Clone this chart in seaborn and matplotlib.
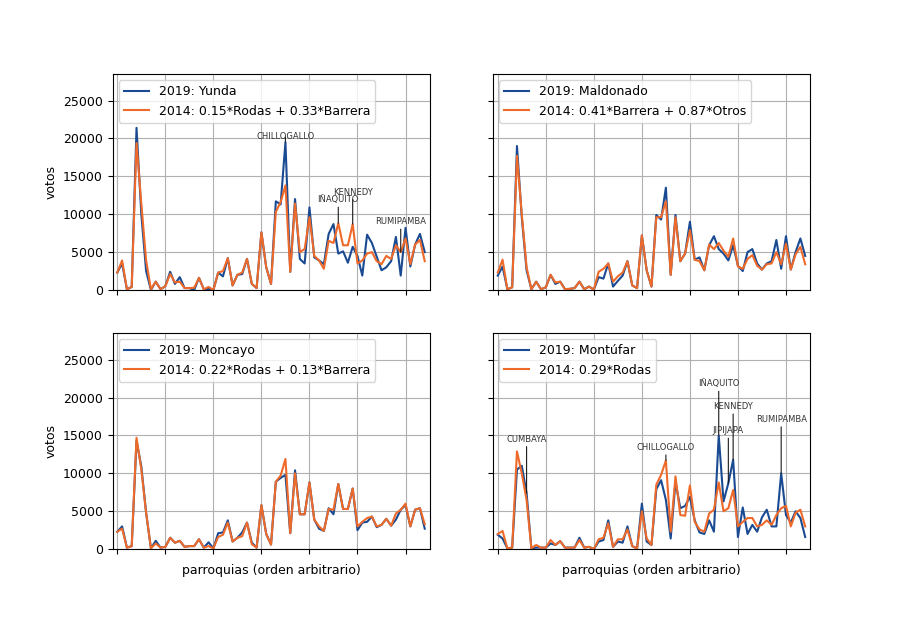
import numpy as np
import pandas as pd
import seaborn as sns
import matplotlib
matplotlib.use("Agg")
import matplotlib.pyplot as plt

plt.rcParams["font.size"] = 9

# votos por parroquia (orden arbitrario)
yunda_2019 = [2300, 3500, 100, 400, 21400, 10000, 2500, 0, 1100, 100,
              500, 2400, 800, 1700, 250, 250, 0, 1600, 100, 150,
              0, 2300, 1800, 4200, 600, 2000, 2100, 4100, 800, 250,
              7600, 3000, 800, 11700, 11300, 19500, 2400, 12000, 4100, 3500,
              10900, 4300, 3900, 3400, 7400, 8700, 4800, 5100, 3600, 5700,
              4500, 1900, 7300, 6200, 4400, 2600, 3000, 3800, 7000, 1900,
              8200, 3100, 6000, 7400, 5000]
yunda_2014 = [2300, 3900, 100, 400, 19400, 11400, 3900, 100, 1100, 100,
              500, 2100, 1000, 1100, 250, 250, 300, 1600, 100, 400,
              0, 2300, 2500, 4200, 600, 2000, 2300, 4100, 800, 250,
              7600, 3000, 800, 10300, 11600, 13800, 2400, 11400, 5000, 5400,
              9600, 4500, 3900, 2800, 6500, 6200, 8800, 5900, 5900, 8700,
              3500, 3900, 4800, 5000, 3800, 3400, 4500, 4100, 5900, 5000,
              6800, 3400, 6000, 6600, 3800]

maldonado_2019 = [1900, 3100, 100, 350, 19000, 9600, 2600, 100, 1100, 100,
                  350, 2000, 800, 1100, 100, 150, 250, 1100, 100, 450,
                  50, 1700, 1500, 3500, 450, 1200, 1900, 3800, 600, 250,
                  7200, 2600, 450, 9900, 9300, 13500, 2000, 9900, 3800, 4800,
                  9000, 4000, 4300, 2600, 5900, 7100, 5400, 4800, 3900, 5900,
                  3200, 2500, 5000, 5400, 3500, 2700, 3500, 3800, 6600, 2800,
                  7100, 2700, 5000, 6800, 4500]
maldonado_2014 = [2300, 4000, 100, 350, 17700, 10000, 3000, 100, 1100, 100,
                  350, 2000, 1000, 1100, 100, 150, 250, 1100, 100, 450,
                  50, 2400, 2800, 3500, 1100, 1800, 2300, 3800, 600, 250,
                  7200, 2600, 450, 9600, 9600, 11700, 2000, 9600, 3800, 4800,
                  7900, 4000, 3800, 2600, 6000, 5400, 6200, 5200, 4400, 6800,
                  3100, 2800, 4100, 4600, 3200, 2700, 3400, 3500, 5000, 3400,
                  6100, 2700, 4700, 5700, 3400]

moncayo_2019 = [2300, 3000, 200, 400, 14300, 10900, 4800, 100, 1100, 200,
                300, 1500, 850, 1100, 300, 400, 400, 1300, 200, 900,
                100, 2100, 2200, 3800, 1000, 1500, 2200, 3500, 850, 200,
                5800, 2000, 600, 8900, 9400, 9800, 2100, 10400, 4600, 4600,
                8800, 3900, 2700, 2400, 5400, 4600, 8600, 5300, 5300, 8000,
                2500, 3500, 3600, 4300, 2900, 3200, 4000, 3100, 3900, 5200,
                5800, 3000, 5200, 5400, 2700]
moncayo_2014 = [2300, 2700, 200, 400, 14700, 10500, 4800, 100, 750, 200,
                300, 1500, 850, 1100, 300, 400, 400, 1300, 200, 400,
                100, 1600, 1900, 3500, 1000, 1500, 1700, 3500, 650, 200,
                5800, 2000, 600, 8900, 9700, 11900, 2100, 10000, 4600, 4600,
                8800, 3900, 3000, 2400, 5300, 5200, 8600, 5300, 5300, 8000,
                3000, 3600, 4100, 4300, 3000, 3200, 4000, 3100, 4700, 5200,
                6000, 3000, 5200, 5400, 3300]

montufar_2019 = [1900, 1400, 100, 200, 10500, 11000, 7400, 100, 200, 200,
                 200, 750, 550, 1050, 200, 200, 200, 1500, 200, 300,
                 0, 1000, 1200, 3800, 300, 1000, 850, 3000, 400, 100,
                 6000, 1000, 550, 7900, 9100, 6500, 1400, 8900, 5400, 5700,
                 6900, 3800, 2200, 2000, 3800, 2300, 15000, 6300, 8700, 11800,
                 1600, 5500, 2000, 3200, 2300, 4200, 5200, 3000, 3000, 10000,
                 4500, 3500, 5000, 4100, 1600]
montufar_2014 = [2000, 2400, 100, 200, 12900, 10000, 6500, 100, 550, 200,
                 200, 1200, 550, 1050, 200, 200, 200, 1200, 200, 300,
                 0, 1300, 1500, 3400, 300, 1300, 1300, 2600, 400, 100,
                 5000, 1400, 550, 8500, 9800, 11700, 2300, 9600, 4500, 4400,
                 8400, 3600, 2600, 2300, 4700, 5200, 8800, 5000, 5400, 7800,
                 3000, 3600, 4100, 4100, 3000, 3200, 3800, 3200, 4500, 5400,
                 5700, 3000, 4800, 5200, 3000]

titles_2019 = ["2019: Yunda", "2019: Maldonado", "2019: Moncayo", "2019: Montúfar"]
titles_2014 = ["2014: 0.15*Rodas + 0.33*Barrera", "2014: 0.41*Barrera + 0.87*Otros",
               "2014: 0.22*Rodas + 0.13*Barrera", "2014: 0.29*Rodas"]

# etiquetas de parroquias destacadas: (nombre, indice, altura del texto)
notes_yunda = [("CHILLOGALLO", 35, 19600), ("IÑAQUITO", 46, 11300),
               ("KENNEDY", 49, 12300), ("RUMIPAMBA", 59, 8400)]
notes_montufar = [("CUMBAYA", 6, 13900), ("CHILLOGALLO", 35, 12800),
                  ("IÑAQUITO", 46, 21200), ("JIPIJAPA", 48, 15000),
                  ("KENNEDY", 49, 18200), ("RUMIPAMBA", 59, 16500)]

series_2019 = [yunda_2019, maldonado_2019, moncayo_2019, montufar_2019]
series_2014 = [yunda_2014, maldonado_2014, moncayo_2014, montufar_2014]
notes = [notes_yunda, [], [], notes_montufar]

c2019 = "#1a4b92"
c2014 = "#ee6a2a"

fig, axes = plt.subplots(2, 2, figsize=(9, 6.17), dpi=100, sharey=True)

for k, ax in enumerate(axes.flat):
    n = len(series_2019[k])
    df = pd.DataFrame({"parroquia": np.arange(n),
                       "v2019": series_2019[k],
                       "v2014": series_2014[k]})
    sns.lineplot(data=df, x="parroquia", y="v2019", color=c2019, lw=1.5,
                 label=titles_2019[k], ax=ax)
    sns.lineplot(data=df, x="parroquia", y="v2014", color=c2014, lw=1.5,
                 label=titles_2014[k], ax=ax)
    for name, i, ytxt in notes[k]:
        top = max(df["v2019"][i], df["v2014"][i])
        ax.annotate(name, xy=(i, top), xytext=(i, ytxt), ha="center", va="bottom",
                    fontsize=6, color="0.2",
                    arrowprops=dict(arrowstyle="-", color="0.1", lw=0.8,
                                    shrinkA=0, shrinkB=0))
    ax.set_xlim(-1, 65)
    ax.set_ylim(0, 28500)
    ax.set_xticks(range(0, 61, 10))
    ax.set_xticklabels([])
    ax.set_yticks(range(0, 25001, 5000))
    ax.grid(True, color="#b0b0b0", lw=0.8)
    ax.legend(loc="upper left")
    ax.set_xlabel("parroquias (orden arbitrario)" if k >= 2 else "")
    ax.set_ylabel("votos" if k % 2 == 0 else "")

plt.savefig("out.png", dpi=100)
plt.close()
